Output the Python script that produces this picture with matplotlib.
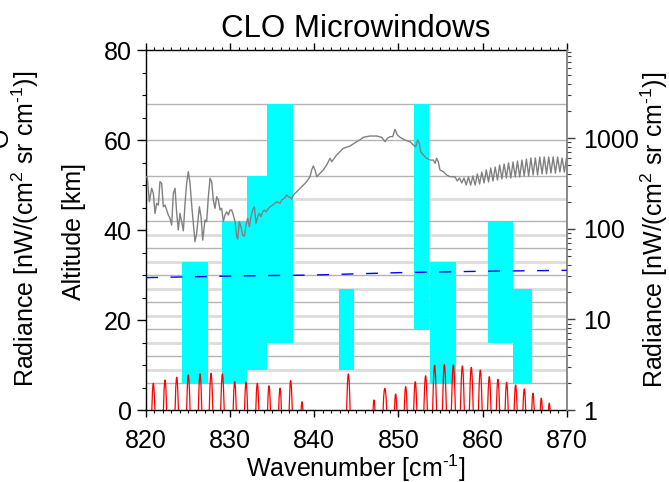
import numpy as np
import matplotlib
matplotlib.use("Agg")
import matplotlib.pyplot as plt
from matplotlib.ticker import MultipleLocator, LogLocator, FixedLocator, NullFormatter
from matplotlib.mathtext import MathTextParser

plt.rcParams['font.family'] = ['Liberation Sans', 'DejaVu Sans']
plt.rcParams['mathtext.fontset'] = 'custom'
plt.rcParams['mathtext.rm'] = 'Liberation Sans'
plt.rcParams['mathtext.it'] = 'Liberation Sans:italic'
plt.rcParams['mathtext.bf'] = 'Liberation Sans:bold'

# superscript "-1" written with a plain hyphen when mathtext knows \text
try:
    MathTextParser('path').parse(r'$x^{\text{-1}}$', 72)
    SUP_M1 = r'$^{\text{-1}}$'
except Exception:
    SUP_M1 = '⁻¹'
SUP_2 = r'$^{2}$'

# ---- data -------------------------------------------------------------
# microwindows: wavenumber range [cm-1] and altitude range [km]
mw_start = [824.28, 829.03, 832.06, 834.38, 842.94, 851.85, 853.75, 860.65, 863.65]
mw_end   = [827.33, 832.06, 834.38, 837.47, 844.68, 853.63, 856.81, 863.65, 865.84]
mw_bottom = [6, 6, 9, 15, 9, 18, 6, 15, 6]
mw_top    = [33, 42, 52, 68, 27, 68, 33, 42, 27]

# tangent altitude grid [km]
grid_dark = [6, 12, 18, 24, 30, 36, 42, 52, 60, 68]
grid_light = [9, 15, 21, 27, 33, 39, 47]

# total atmospheric radiance [nW/(cm2 sr cm-1)]
total_wn = [
    820.08, 820.16, 820.40, 820.67, 820.87, 821.07, 821.27, 821.47, 821.66, 821.86,
    822.06, 822.26, 822.46, 822.65, 822.85, 823.05, 823.25, 823.45, 823.65, 823.84,
    824.04, 824.24, 824.44, 824.64, 824.83, 825.03, 825.23, 825.43, 825.63, 825.82,
    826.02, 826.34, 826.54, 826.74, 827.01, 827.21, 827.41, 827.61, 827.81, 828.00,
    828.20, 828.40, 828.60, 828.80, 828.99, 829.19, 829.39, 829.59, 829.79, 829.98,
    830.18, 830.38, 830.58, 830.78, 830.90, 831.09, 831.29, 831.49, 831.69, 831.89,
    832.08, 832.28, 832.48, 832.68, 832.88, 833.07, 833.27, 833.47, 833.67, 833.87,
    834.06, 834.26, 834.46, 834.74, 835.06, 835.33, 835.53, 835.93, 836.12, 836.44,
    836.72, 836.92, 837.12, 837.31, 837.51, 837.91, 838.30, 839.10, 839.49, 839.69,
    839.88, 840.09, 840.29, 840.68, 841.07, 841.47, 841.67, 841.87, 842.07, 842.66,
    843.45, 844.25, 844.84, 845.04, 845.43, 845.83, 846.62, 847.42, 848.01, 848.41,
    848.68, 849.00, 849.32, 849.59, 849.87, 850.19, 850.78, 851.38, 851.77, 852.05,
    852.29, 852.49, 852.64, 852.96, 853.36, 853.75, 854.15, 854.35, 854.55, 854.74,
    854.94, 855.34, 855.73, 856.13, 856.52,
    856.73, 857.00, 857.26, 857.53, 857.79, 858.06, 858.32, 858.59, 858.85, 859.12,
    859.38, 859.65, 859.91, 860.18, 860.44, 860.71, 860.97, 861.24, 861.50, 861.77,
    862.03, 862.30, 862.56, 862.83, 863.09, 863.36, 863.62, 863.89, 864.15, 864.42,
    864.68, 864.95, 865.21, 865.48, 865.74, 866.01, 866.27, 866.54, 866.80, 867.07,
    867.33, 867.60, 867.86, 868.13, 868.39, 868.66, 868.92, 869.19, 869.45, 869.72,
    869.98,
]
total_rad = [
    376, 361, 199, 280, 247, 148, 191, 183, 331, 318,
    175, 183, 161, 142, 131, 110, 247, 280, 148, 97,
    148, 120, 95, 191, 318, 427, 318, 183, 115, 72,
    89, 175, 136, 75, 125, 120, 226, 361, 331, 208,
    168, 226, 208, 161, 168, 120, 142, 154, 142, 161,
    161, 142, 120, 82, 77, 120, 105, 85, 83, 110,
    131, 105, 136, 161, 175, 115, 136, 148, 136, 154,
    161, 154, 164, 175, 183, 191, 199, 191, 208, 217,
    236, 226, 223, 212, 236, 257, 280, 331, 376, 446,
    494, 446, 376, 410, 446, 506, 550, 600, 550, 653,
    773, 820, 892, 915, 960, 1023, 1057, 1057, 1023, 915,
    997, 1040, 1040, 1253, 1084, 1023, 955, 915, 841, 806,
    955, 878, 709, 653, 600, 574, 574, 528, 600, 550,
    446, 427, 393, 376, 376,
    373, 337, 364, 321, 364, 304, 373, 304, 383, 304,
    403, 312, 424, 321, 446, 329, 469, 337, 481, 346,
    506, 355, 519, 364, 532, 364, 546, 373, 560, 373,
    574, 383, 589, 383, 605, 393, 605, 393, 620, 403,
    620, 403, 620, 413, 620, 413, 620, 424, 605, 424,
    605,
]

# ClO emission lines: centre [cm-1] and peak radiance [nW/(cm2 sr cm-1)]
clo_center = [820.87, 822.26, 823.65, 825.03, 826.42, 827.73, 829.08, 830.54,
              831.89, 833.23, 834.62, 835.93, 837.19, 838.54, 844.05,
              847.10, 848.30, 848.50, 849.67, 850.86, 852.00, 853.23, 854.30,
              855.46, 856.53, 857.60, 858.66, 859.73, 860.80, 861.83, 862.86,
              863.93, 864.96, 865.99, 866.98, 867.93]
clo_peak = [1.97, 2.14, 2.30, 2.43, 2.50, 2.54, 2.50, 2.05,
            2.02, 1.97, 1.85, 1.74, 2.11, 1.23, 2.50,
            1.29, 1.29, 1.14, 1.50, 1.81, 2.05, 2.39, 3.11,
            3.16, 3.14, 3.06, 2.96, 2.76, 2.33, 2.18, 2.02,
            1.89, 1.71, 1.53, 1.35, 1.19]

# noise level
nesr_wn = [820, 830, 840, 850, 860, 870]
nesr_rad = [28.9, 30.1, 30.9, 32.8, 34.0, 34.8]

# ---- figure -----------------------------------------------------------
W, H = 669, 482
fig = plt.figure(figsize=(W / 100, H / 100), dpi=100)
x0, x1, y0, y1 = 146, 566.7, 50, 410
ax = fig.add_axes([x0 / W, 1 - y1 / H, (x1 - x0) / W, (y1 - y0) / H])
ax.set_xlim(820, 870)
ax.set_ylim(0, 80)

for a in grid_dark:
    ax.axhline(a, color='#b4b4b4', lw=1.0, zorder=0)
for a in grid_light:
    ax.axhline(a, color='#dcdcdc', lw=2.0, zorder=0)

ax.bar(mw_start, np.subtract(mw_top, mw_bottom), width=np.subtract(mw_end, mw_start),
       bottom=mw_bottom, align='edge', color='#00ffff', linewidth=0, zorder=1)

# radiance axis
ax2 = ax.twinx()
ax2.set_yscale('log')
ax2.set_ylim(1, 10 ** (360 / 90.6))
ax2.set_xlim(820, 870)

ax2.plot(total_wn, total_rad, color='#808080', lw=1.0, zorder=2)

# ClO spectrum built from line centres and peak values
wn = np.linspace(820, 870, 10001)
base = 0.3
spec = np.full_like(wn, base)
for c, p in zip(clo_center, clo_peak):
    spec += (p - base) * np.exp(-((wn - c) / 0.2) ** 2)
ax2.plot(wn, spec, color='#ff0000', lw=0.9, zorder=3)

ax2.plot(nesr_wn, nesr_rad, color='#0000ff', lw=1.0, dashes=(8.6, 9.0), zorder=4)

# ---- axes styling -----------------------------------------------------
for s in ['top', 'bottom', 'left']:
    ax.spines[s].set_color('black')
    ax.spines[s].set_linewidth(1.0)
ax.spines['right'].set_visible(False)
for s in ['top', 'bottom', 'left']:
    ax2.spines[s].set_visible(False)
ax2.spines['right'].set_color('#808080')
ax2.spines['right'].set_linewidth(1.3)

ax.xaxis.set_major_locator(MultipleLocator(10))
ax.xaxis.set_minor_locator(MultipleLocator(1))
ax.yaxis.set_major_locator(MultipleLocator(20))
ax.yaxis.set_minor_locator(MultipleLocator(5))
ax.tick_params(axis='x', which='both', direction='out', top=True, labeltop=False,
               labelsize=18, pad=8.5)
ax.tick_params(axis='x', which='major', length=5, width=1)
ax.tick_params(axis='x', which='minor', length=2.5, width=0.8)
ax.tick_params(axis='y', which='both', direction='out', labelsize=18, pad=4)
ax.tick_params(axis='y', which='major', length=6.2, width=1)
ax.tick_params(axis='y', which='minor', length=2.8, width=0.8)

ax2.yaxis.set_major_locator(FixedLocator([1, 10, 100, 1000]))
ax2.yaxis.set_major_formatter(plt.FuncFormatter(lambda v, p: f"{v:g}"))
ax2.yaxis.set_minor_locator(LogLocator(base=10, subs=np.arange(2, 10)))
ax2.yaxis.set_minor_formatter(NullFormatter())
ax2.tick_params(axis='y', which='both', direction='out', labelsize=18, pad=6,
                color='#404040')
ax2.tick_params(axis='y', which='major', length=6, width=1)
ax2.tick_params(axis='y', which='minor', length=3, width=0.8)

# ---- text -------------------------------------------------------------
rad_label = 'Radiance [nW/(cm' + SUP_2 + ' sr cm' + SUP_M1 + ')]'
fig.text(356 / W, 1 - 37 / H, 'CLO Microwindows', ha='center', va='baseline', fontsize=22.5)
fig.text(356 / W, 1 - 476.5 / H, 'Wavenumber [cm' + SUP_M1 + ']', ha='center',
         va='baseline', fontsize=18)
fig.text(74 / W, 1 - 231 / H, 'Altitude [km]', ha='center', va='center',
         rotation=90, fontsize=18)
fig.text(25 / W, 1 - 229 / H, rad_label, ha='center', va='center',
         rotation=90, fontsize=18)
fig.text(654 / W, 1 - 230 / H, rad_label, ha='center', va='center',
         rotation=90, fontsize=18)
fig.text(12.5 / W, 1 - 137 / H, 'O', ha='right', va='center', rotation=90, fontsize=18)

fig.savefig('out.png', dpi=100)
